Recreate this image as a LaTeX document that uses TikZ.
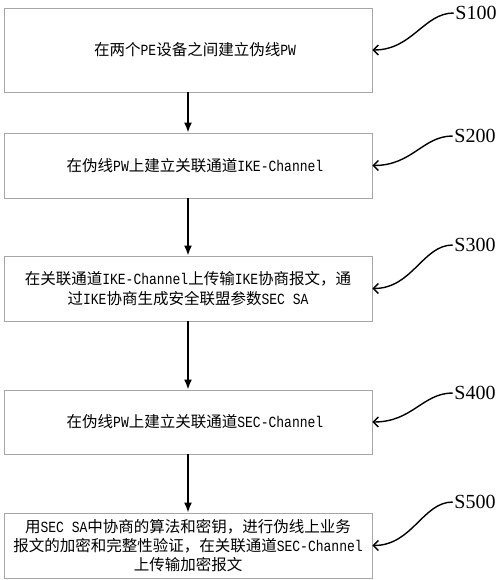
\documentclass[tikz,border=0pt]{standalone}
\usepackage{fontspec}
\setmainfont{Liberation Serif}
\newfontfamily\cjk{Noto Sans CJK SC}
\newfontfamily\latm[Scale=1.0,FakeStretch=0.84]{Liberation Mono}
\newcommand\lt[1]{{\latm #1}}
\usetikzlibrary{arrows.meta}
\begin{document}
\begin{tikzpicture}[x=1pt,y=-1pt,
  stepbox/.style={draw=black!35, line width=0.9pt, rectangle, minimum width=368pt, inner sep=0pt, align=center, font=\cjk\fontsize{15.5}{20}\selectfont},
  flow/.style={line width=1.6pt, -{Latex[length=10pt,width=8pt]}},
  lab/.style={font=\fontsize{20}{22}\selectfont, inner sep=1.5pt},
  curv/.style={line width=1.4pt, -{Straight Barb[length=5pt,width=10pt]}}]
\useasboundingbox (0,0) rectangle (500,580);
\node[stepbox, minimum height=84pt] (b1) at (188,50) {\hspace*{14pt}在两个\lt{PE}设备之间建立伪线\lt{PW}};
\node[stepbox, minimum height=65pt] (b2) at (188,165.5) {\hspace*{14pt}在伪线\lt{PW}上建立关联通道\lt{IKE-Channel}};
\node[stepbox, minimum height=65pt] (b3) at (188,288.5) {在关联通道\lt{IKE-Channel}上传输\lt{IKE}协商报文，通\\过\lt{IKE}协商生成安全联盟参数\lt{SEC SA}};
\node[stepbox, minimum height=64pt] (b4) at (188,422) {\hspace*{14pt}在伪线\lt{PW}上建立关联通道\lt{SEC-Channel}};
\node[stepbox, minimum height=65pt, font=\cjk\fontsize{15.5}{19}\selectfont] (b5) at (188,545.5) {用\lt{SEC SA}中协商的算法和密钥，进行伪线上业务\\报文的加密和完整性验证，在关联通道\lt{SEC-Channel}\\上传输加密报文};
\draw[flow] (b1) -- (b2);
\draw[flow] (b2) -- (b3);
\draw[flow] (b3) -- (b4);
\draw[flow] (b4) -- (b5);
\node[lab] (l1) at (476,13) {S100};
\node[lab] (l2) at (475,136) {S200};
\node[lab] (l3) at (475,245) {S300};
\node[lab] (l4) at (475,393) {S400};
\node[lab] (l5) at (475,502) {S500};
\draw[curv] (l1.west) .. controls +(-30,0) and +(40,0) .. (b1.east);
\draw[curv] (l2.west) .. controls +(-30,0) and +(40,0) .. (b2.east);
\draw[curv] (l3.west) .. controls +(-30,0) and +(40,0) .. (b3.east);
\draw[curv] (l4.west) .. controls +(-30,0) and +(40,0) .. (b4.east);
\draw[curv] (l5.west) .. controls +(-30,0) and +(40,0) .. (b5.east);
\end{tikzpicture}
\end{document}
